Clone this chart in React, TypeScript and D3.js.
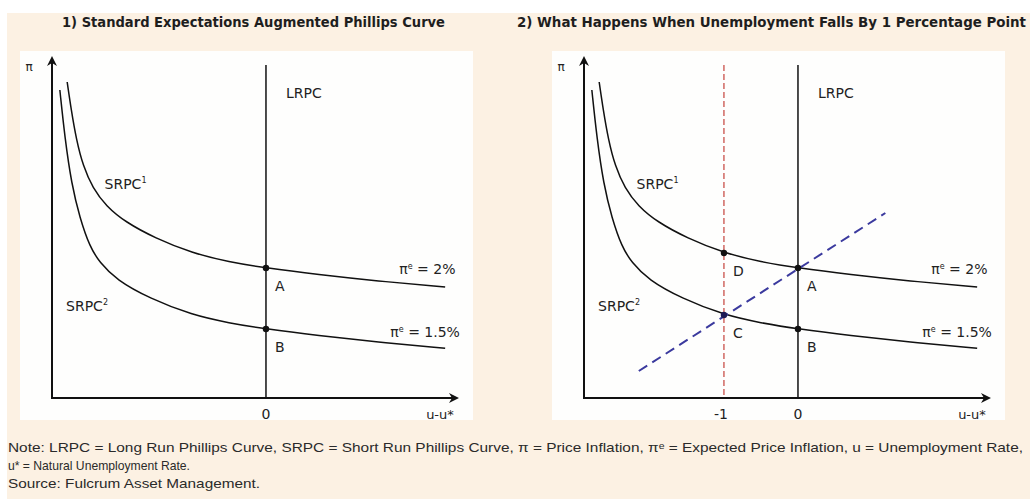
import React, { useEffect, useRef } from 'react';
import * as d3 from 'd3';

// u - u* (percentage points) and pi values
const srpc1X = [-2.685, -2.63, -2.56, -2.47, -2.34, -2.16, -1.9, -1.5, -1.0, -0.5, 0, 0.7, 1.5, 2.42];
const srpc1Y = [3.16, 2.88, 2.58, 2.32, 2.1, 1.92, 1.76, 1.6, 1.45, 1.36, 1.3, 1.235, 1.17, 1.11];
const srpc2X = [-2.784, -2.716, -2.626, -2.514, -2.378, -2.25, -2.02, -1.568, -1.0, -0.5, 0, 0.7, 1.5, 2.42];
const srpc2Y = [3.08, 2.6, 2.14, 1.8, 1.51, 1.36, 1.18, 0.995, 0.83, 0.75, 0.69, 0.625, 0.56, 0.497];
const expectX = [-2.15, 1.18];
const expectY = [0.27, 1.85];
const xTicks = [-1, 0];
const pointsLeft = [{ name: 'A', x: 0, y: 1.3 }, { name: 'B', x: 0, y: 0.69 }];
const pointsRight = [
  { name: 'D', x: -1, y: 1.45 },
  { name: 'A', x: 0, y: 1.3 },
  { name: 'C', x: -1, y: 0.83 },
  { name: 'B', x: 0, y: 0.69 },
];
const titles = [
  '1) Standard Expectations Augmented Phillips Curve',
  '2) What Happens When Unemployment Falls By 1 Percentage Point',
];
const notes = [
  'Note: LRPC = Long Run Phillips Curve, SRPC = Short Run Phillips Curve, \u03c0 = Price Inflation, \u03c0\u1d49 = Expected Price Inflation, u = Unemployment Rate,',
  'u* = Natural Unemployment Rate.',
  'Source: Fulcrum Asset Management.',
];

const W = 1030;
const H = 499;
const labelFont = '"DejaVu Sans", sans-serif';

const App = () => {
  const ref = useRef<SVGSVGElement>(null);

  useEffect(() => {
    const svg = d3.select(ref.current);
    svg.selectAll('*').remove();

    const defs = svg.append('defs');
    defs.append('marker')
      .attr('id', 'arr')
      .attr('viewBox', '0 0 10 10')
      .attr('refX', 8)
      .attr('refY', 5)
      .attr('markerWidth', 10)
      .attr('markerHeight', 10)
      .attr('markerUnits', 'userSpaceOnUse')
      .attr('orient', 'auto')
      .append('path')
      .attr('d', 'M0,0 L10,5 L0,10 L3,5 Z')
      .attr('fill', '#111');

    // backgrounds
    svg.append('rect').attr('x', 0).attr('y', 0).attr('width', W).attr('height', H).attr('fill', '#ffffff');
    svg.append('rect').attr('x', 7).attr('y', 13).attr('width', W - 7).attr('height', H - 13).attr('fill', '#fcf1e3');

    const y = d3.scaleLinear().domain([0, 3.4]).range([398, 58]);

    const drawPanel = (offset: number, second: boolean) => {
      const g = svg.append('g');
      const x = d3.scaleLinear().domain([-2.89, 2.58]).range([52 + offset, 457 + offset]);

      g.append('rect')
        .attr('x', 20 + offset).attr('y', 51)
        .attr('width', 453).attr('height', 369)
        .attr('fill', '#fefefd');

      const line = d3.line<[number, number]>()
        .x(d => x(d[0]))
        .y(d => y(d[1]))
        .curve(d3.curveBasis);

      if (second) {
        g.append('line')
          .attr('x1', x(-1)).attr('x2', x(-1))
          .attr('y1', y(3.33)).attr('y2', y(0))
          .attr('stroke', '#c9504a').attr('stroke-width', 1.3)
          .attr('stroke-dasharray', '6,3');
      }

      // LRPC
      g.append('line')
        .attr('x1', x(0)).attr('x2', x(0))
        .attr('y1', y(3.33)).attr('y2', y(0))
        .attr('stroke', '#111').attr('stroke-width', 1.5);

      const curves = [
        srpc1X.map((v, i) => [v, srpc1Y[i]] as [number, number]),
        srpc2X.map((v, i) => [v, srpc2Y[i]] as [number, number]),
      ];
      g.selectAll('.srpc')
        .data(curves)
        .join('path')
        .attr('class', 'srpc')
        .attr('d', d => line(d))
        .attr('fill', 'none')
        .attr('stroke', '#111')
        .attr('stroke-width', 1.5);

      if (second) {
        g.append('path')
          .attr('d', d3.line<[number, number]>().x(d => x(d[0])).y(d => y(d[1]))(
            expectX.map((v, i) => [v, expectY[i]] as [number, number])))
          .attr('fill', 'none')
          .attr('stroke', '#3b3a9e')
          .attr('stroke-width', 2)
          .attr('stroke-dasharray', '10,6');
      }

      // axes
      g.append('line')
        .attr('x1', x(-2.89)).attr('x2', x(-2.89))
        .attr('y1', y(0) + 1).attr('y2', y(3.4))
        .attr('stroke', '#111').attr('stroke-width', 2)
        .attr('marker-end', 'url(#arr)');
      g.append('line')
        .attr('x1', x(-2.89) - 1).attr('x2', x(2.58))
        .attr('y1', y(0)).attr('y2', y(0))
        .attr('stroke', '#111').attr('stroke-width', 2)
        .attr('marker-end', 'url(#arr)');

      const ticks = second ? xTicks : [0];
      g.selectAll('.tick')
        .data(ticks)
        .join('text')
        .attr('class', 'tick')
        .attr('x', d => x(d) + (d < 0 ? -3 : 0))
        .attr('y', 419)
        .attr('text-anchor', 'middle')
        .attr('font-family', labelFont)
        .attr('font-size', 14)
        .attr('fill', '#222')
        .text(d => String(d));

      g.append('text')
        .attr('x', x(2.35)).attr('y', 419)
        .attr('text-anchor', 'middle')
        .attr('font-family', labelFont).attr('font-size', 13).attr('fill', '#222')
        .text('u-u*');
      g.append('text')
        .attr('x', x(-2.89) - 23).attr('y', 71)
        .attr('text-anchor', 'middle')
        .attr('font-family', labelFont).attr('font-size', 12).attr('fill', '#222')
        .text('\u03c0');

      const pts = second ? pointsRight : pointsLeft;
      g.selectAll('.pt')
        .data(pts)
        .join('circle')
        .attr('class', 'pt')
        .attr('cx', d => x(d.x))
        .attr('cy', d => y(d.y))
        .attr('r', 3.2)
        .attr('fill', d => (d.name === 'C' ? '#1d1a55' : '#111'));
      g.selectAll('.ptlabel')
        .data(pts)
        .join('text')
        .attr('class', 'ptlabel')
        .attr('x', d => x(d.x) + 9)
        .attr('y', d => y(d.y) + 23)
        .attr('font-family', labelFont).attr('font-size', 14).attr('fill', '#222')
        .text(d => d.name);

      const txt = g.append('g').attr('font-family', labelFont).attr('fill', '#222');
      txt.append('text').attr('x', x(0) + 20).attr('y', 98).attr('font-size', 14).text('LRPC');

      const sup = (t: any, base: string, s: string) => {
        t.append('tspan').text(base);
        t.append('tspan').attr('font-size', 8).attr('dy', -6).text(s);
      };
      sup(txt.append('text').attr('x', x(-2.18)).attr('y', 189).attr('font-size', 14), 'SRPC', '1');
      sup(txt.append('text').attr('x', x(-2.7)).attr('y', 311).attr('font-size', 14), 'SRPC', '2');

      const pe = (t: any, rest: string) => {
        t.append('tspan').text('\u03c0');
        t.append('tspan').attr('font-size', 8).attr('dy', -5).text('e');
        t.append('tspan').attr('dy', 5).text(rest);
      };
      pe(txt.append('text').attr('x', x(1.8)).attr('y', 274).attr('font-size', 14), ' = 2%');
      pe(txt.append('text').attr('x', x(1.68)).attr('y', 337).attr('font-size', 14), ' = 1.5%');
    };

    drawPanel(0, false);
    drawPanel(532, true);

    // titles
    const titleX = [[62, 383], [517, 509]];
    svg.selectAll('.title')
      .data(titles)
      .join('text')
      .attr('class', 'title')
      .attr('x', (d, i) => titleX[i][0])
      .attr('y', 27)
      .attr('textLength', (d, i) => titleX[i][1])
      .attr('lengthAdjust', 'spacingAndGlyphs')
      .attr('font-family', '"DejaVu Sans", sans-serif')
      .attr('font-weight', 'bold')
      .attr('font-size', 13.5)
      .attr('fill', '#1e1e1e')
      .text(d => d);

    // notes
    const noteLen = [1015, 182, 252];
    svg.selectAll('.note')
      .data(notes)
      .join('text')
      .attr('class', 'note')
      .attr('x', 8)
      .attr('y', (d, i) => 452 + i * 18)
      .attr('textLength', (d, i) => noteLen[i])
      .attr('lengthAdjust', 'spacingAndGlyphs')
      .attr('font-family', '"Liberation Sans Narrow", "Liberation Sans", sans-serif')
      .attr('font-size', 13.5)
      .attr('fill', '#2a2a2a')
      .text(d => d);
  }, []);

  return (
    <svg
      ref={ref}
      width={W}
      height={H}
      style={{ position: 'absolute', left: 0, top: 0, display: 'block' }}
    />
  );
};

export default App;
